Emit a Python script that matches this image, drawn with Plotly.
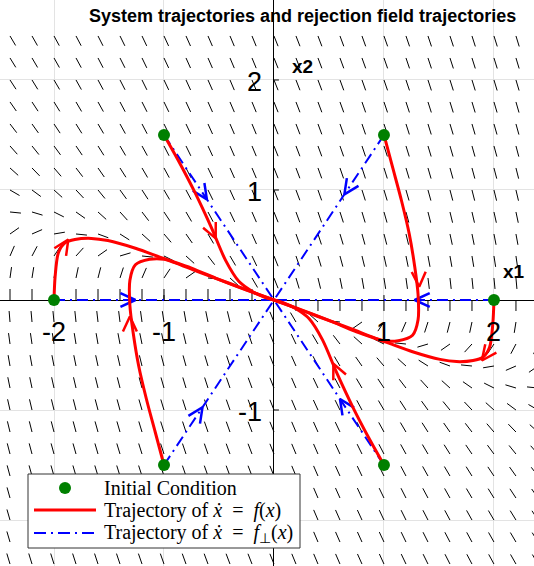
import numpy as np
import plotly.graph_objects as go

# ---- system  x1' = x2 ,  x2' = -b*x1 - c*x2  (direction field) ----
field_b = 0.8
field_c = 2.5
grid_vals = np.round(np.arange(-2.4, 2.41, 0.2), 2)
seg_len = 0.1

# ---- initial conditions ----
ic_x = [-1, 1, -2, 2, -1, 1]
ic_y = [1.5, 1.5, 0, 0, -1.5, -1.5]

# ---- trajectories of x' = f(x) ----
traj_1_x = [-1.0, -0.86, -0.72, -0.57, -0.44, -0.32, -0.2, -0.1, 0.0]
traj_1_y = [1.5, 1.25, 0.98, 0.66, 0.36, 0.17, 0.08, 0.03, 0.0]
traj_2_x = [1.0, 1.08, 1.16, 1.23, 1.28, 1.31, 1.31, 1.26, 1.13, 1.0, 0.7, 0.4, 0.15, 0.0]
traj_2_y = [1.5, 1.2, 0.9, 0.6, 0.3, 0.05, -0.18, -0.32, -0.37, -0.37, -0.26, -0.15, -0.055, 0.0]
traj_3_x = [2.0, 1.99, 1.96, 1.9, 1.81, 1.66, 1.51, 1.26, 1.01, 0.75, 0.51, 0.25, 0.0]
traj_3_y = [0.0, -0.21, -0.43, -0.52, -0.55, -0.56, -0.54, -0.47, -0.38, -0.29, -0.19, -0.09, 0.0]
traj_4_x = [-2.0, -1.99, -1.96, -1.9, -1.81, -1.66, -1.51, -1.26, -1.01, -0.75, -0.51, -0.25, 0.0]
traj_4_y = [0.0, 0.21, 0.43, 0.52, 0.55, 0.56, 0.54, 0.47, 0.38, 0.29, 0.19, 0.09, 0.0]
traj_5_x = [-1.0, -1.08, -1.16, -1.23, -1.28, -1.31, -1.31, -1.26, -1.13, -1.0, -0.7, -0.4, -0.15, 0.0]
traj_5_y = [-1.5, -1.2, -0.9, -0.6, -0.3, -0.05, 0.18, 0.32, 0.37, 0.37, 0.26, 0.15, 0.055, 0.0]
traj_6_x = [1.0, 0.86, 0.72, 0.57, 0.44, 0.32, 0.2, 0.1, 0.0]
traj_6_y = [-1.5, -1.25, -0.98, -0.66, -0.36, -0.17, -0.08, -0.03, 0.0]
red_trajs = [(traj_1_x, traj_1_y), (traj_2_x, traj_2_y), (traj_3_x, traj_3_y),
             (traj_4_x, traj_4_y), (traj_5_x, traj_5_y), (traj_6_x, traj_6_y)]

# arrowheads on the red trajectories: tip and heading
red_tip_x = [-0.53, 1.32, 1.89, -1.87, -1.31, 0.54]
red_tip_y = [0.56, 0.12, -0.55, 0.55, -0.15, -0.58]
red_dir_x = [0.42, 0.03, -0.6, 0.54, 0.0, -0.42]
red_dir_y = [-0.91, -1.0, -0.8, 0.84, 1.0, 0.91]

# arrowheads on the rejection-field lines (lines run from each IC to the origin)
blue_tip_x = [-0.61, 0.64, -1.26, 1.28, -0.65, 0.6]
blue_tip_y = [0.915, 0.96, 0.0, 0.0, -0.975, -0.9]

# axis ticks and labels
tick_vals = [-2, -1, 1, 2]
tick_text = ["-2", "-1", "1", "2"]
ytick_vals = [2, 1, -1]
ytick_text = ["2", "1", "-1"]

X_RANGE = [-2.491, 2.364]
Y_RANGE = [-2.418, 2.727]
W, H = 534, 566


def arrow_head(tx, ty, dx, dy, length=0.15, half_angle=25):
    n = np.hypot(dx, dy)
    bx, by = -dx / n, -dy / n
    xs, ys = [], []
    for s in (1, -1):
        a = np.radians(s * half_angle)
        wx = bx * np.cos(a) - by * np.sin(a)
        wy = bx * np.sin(a) + by * np.cos(a)
        xs += [tx + length * wx, tx]
        ys += [ty + length * wy, ty]
    return xs, ys


fig = go.Figure()

# direction field
qx, qy = [], []
for yv in grid_vals:
    for xv in grid_vals:
        u = yv
        v = -field_b * xv - field_c * yv
        n = np.hypot(u, v)
        if n < 1e-9:
            continue
        qx += [xv, xv + seg_len * u / n, None]
        qy += [yv, yv + seg_len * v / n, None]
fig.add_trace(go.Scatter(x=qx, y=qy, mode="lines", line=dict(color="black", width=1),
                         hoverinfo="skip", showlegend=False))

# axis tick marks
tx, ty = [], []
for t in tick_vals:
    tx += [t, t, None]
    ty += [0, 0.045, None]
    tx += [0, 0.045, None]
    ty += [t, t, None]
fig.add_trace(go.Scatter(x=tx, y=ty, mode="lines", line=dict(color="black", width=1),
                         hoverinfo="skip", showlegend=False))

# rejection-field trajectories (straight to the origin)
bx, by = [], []
for x0, y0 in zip(ic_x, ic_y):
    bx += [x0, 0, None]
    by += [y0, 0, None]
fig.add_trace(go.Scatter(x=bx, y=by, mode="lines",
                         line=dict(color="#0000ff", width=2, dash="11px,5px,2px,5px"),
                         hoverinfo="skip", showlegend=False))
hx, hy = [], []
for (x0, y0), tpx, tpy in zip(zip(ic_x, ic_y), blue_tip_x, blue_tip_y):
    xs, ys = arrow_head(tpx, tpy, -x0, -y0)
    hx += xs + [None]
    hy += ys + [None]
fig.add_trace(go.Scatter(x=hx, y=hy, mode="lines", line=dict(color="#0000ff", width=2.5),
                         hoverinfo="skip", showlegend=False))

# system trajectories
for xs, ys in red_trajs:
    fig.add_trace(go.Scatter(x=xs, y=ys, mode="lines",
                             line=dict(color="#ff0000", width=3, shape="spline", smoothing=0.8),
                             hoverinfo="skip", showlegend=False))
hx, hy = [], []
for a, b, c, d in zip(red_tip_x, red_tip_y, red_dir_x, red_dir_y):
    xs, ys = arrow_head(a, b, c, d)
    hx += xs + [None]
    hy += ys + [None]
fig.add_trace(go.Scatter(x=hx, y=hy, mode="lines", line=dict(color="#ff0000", width=2.5),
                         hoverinfo="skip", showlegend=False))

# initial conditions
fig.add_trace(go.Scatter(x=ic_x, y=ic_y, mode="markers",
                         marker=dict(color="#008000", size=12), hoverinfo="skip", showlegend=False))

annotations = []
for t, s in zip(tick_vals, tick_text):
    annotations.append(dict(x=t, y=0, xref="x", yref="y", text=s, showarrow=False,
                            xanchor="center", yanchor="middle", yshift=-32,
                            font=dict(family="Liberation Sans, Arial", size=27, color="black")))
for t, s in zip(ytick_vals, ytick_text):
    annotations.append(dict(x=0, y=t, xref="x", yref="y", text=s, showarrow=False,
                            xanchor="right", yanchor="middle", xshift=-10, yshift=-2,
                            font=dict(family="Liberation Sans, Arial", size=27, color="black")))
annotations.append(dict(x=2.18, y=0.26, xref="x", yref="y", text="<b>x1</b>", showarrow=False,
                        xanchor="center", yanchor="middle",
                        font=dict(family="Liberation Sans, Arial", size=19, color="black")))
annotations.append(dict(x=0.26, y=2.12, xref="x", yref="y", text="<b>x2</b>", showarrow=False,
                        xanchor="center", yanchor="middle",
                        font=dict(family="Liberation Sans, Arial", size=19, color="black")))
annotations.append(dict(x=302 / W, y=1 - 16 / H, xref="paper", yref="paper",
                        text="<b>System trajectories and rejection field trajectories</b>",
                        showarrow=False, xanchor="center", yanchor="middle",
                        font=dict(family="Liberation Sans, Arial", size=18, color="black")))

# legend drawn by hand
leg_font = dict(family="Liberation Serif, Times New Roman", size=20, color="black")
leg_rows = [488, 510, 533]
leg_text = ["Initial Condition",
            "Trajectory of <i>ẋ</i>&nbsp;&nbsp;=&nbsp;&nbsp;<i>f</i>(<i>x</i>)",
            "Trajectory of <i>ẋ</i>&nbsp;&nbsp;=&nbsp;&nbsp;<i>f</i><sub>⊥</sub>(<i>x</i>)"]
for r, s in zip(leg_rows, leg_text):
    annotations.append(dict(x=102 / W, y=1 - r / H, xref="paper", yref="paper", text=s,
                            showarrow=False, xanchor="left", yanchor="middle", font=leg_font))

shapes = [
    dict(type="rect", xref="paper", yref="paper", x0=28 / W, x1=300 / W,
         y0=1 - 548 / H, y1=1 - 474 / H, fillcolor="white", line=dict(color="#333333", width=1)),
    dict(type="circle", xref="paper", yref="paper", xsizemode="pixel", ysizemode="pixel",
         xanchor=65 / W, yanchor=1 - leg_rows[0] / H, x0=-6, x1=6, y0=-6, y1=6,
         fillcolor="#008000", line=dict(color="#008000", width=0)),
    dict(type="line", xref="paper", yref="paper", x0=34 / W, x1=96 / W,
         y0=1 - leg_rows[1] / H, y1=1 - leg_rows[1] / H, line=dict(color="#ff0000", width=3)),
    dict(type="line", xref="paper", yref="paper", x0=34 / W, x1=96 / W,
         y0=1 - leg_rows[2] / H, y1=1 - leg_rows[2] / H,
         line=dict(color="#0000ff", width=2, dash="12px,5px,2px,5px")),
]

fig.update_layout(
    width=W, height=H, margin=dict(l=0, r=0, t=0, b=0),
    paper_bgcolor="white", plot_bgcolor="white",
    showlegend=False, annotations=annotations, shapes=shapes,
    xaxis=dict(range=X_RANGE, tickvals=tick_vals, showticklabels=False, ticks="",
               showgrid=True, gridcolor="#e3e3e3", gridwidth=1,
               zeroline=True, zerolinecolor="black", zerolinewidth=1, fixedrange=True),
    yaxis=dict(range=Y_RANGE, tickvals=tick_vals, showticklabels=False, ticks="",
               showgrid=True, gridcolor="#e3e3e3", gridwidth=1,
               zeroline=True, zerolinecolor="black", zerolinewidth=1, fixedrange=True),
)

fig.write_html("out.html")
